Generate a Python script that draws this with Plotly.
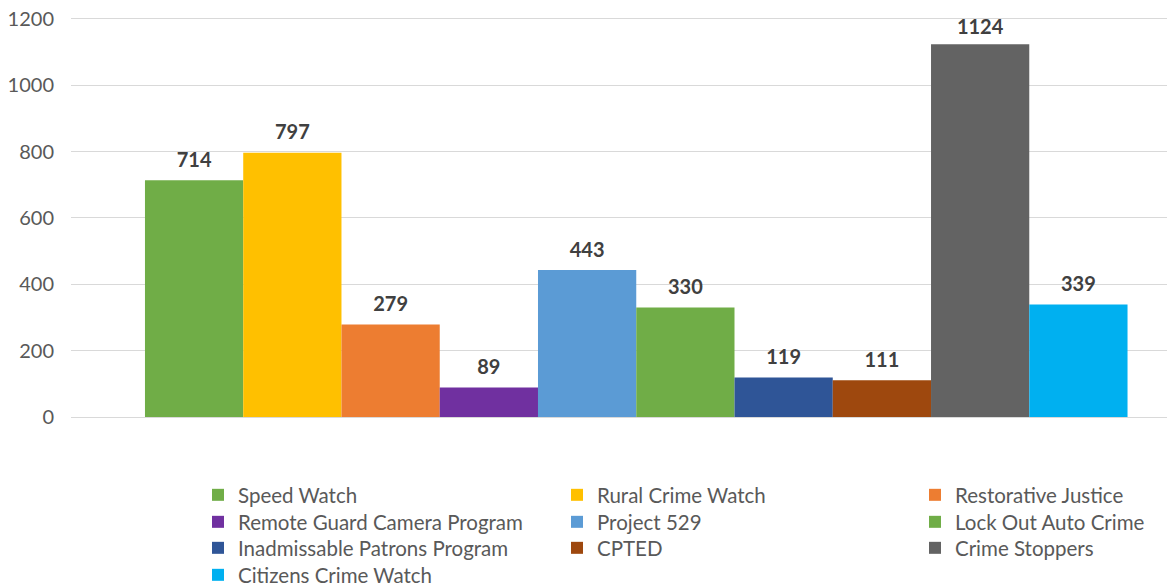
import plotly.graph_objects as go

programs = ["Speed Watch", "Rural Crime Watch", "Restorative Justice",
            "Remote Guard Camera Program", "Project 529", "Lock Out Auto Crime",
            "Inadmissable Patrons Program", "CPTED", "Crime Stoppers",
            "Citizens Crime Watch"]
counts = [714, 797, 279, 89, 443, 330, 119, 111, 1124, 339]
colors = ["#70AD47", "#FFC000", "#ED7D31", "#7030A0", "#5B9BD5", "#70AD47",
          "#2F5597", "#9E480E", "#636363", "#00B0F0"]
y_ticks = [0, 200, 400, 600, 800, 1000, 1200]

FONT = "Lato"

# page body has an 8px default margin; the figure is sized/positioned to compensate
OFF = 8
W, H = 1175 - OFF, 587 - OFF
Y_MAX = 1206                     # a little headroom so the 1200 gridline is kept
px_per_unit = (417 - 19) / 1200
plot_bottom_px = 417 - OFF
plot_top_px = 417 - OFF - Y_MAX * px_per_unit
ml, mr, mt, mb = 71 - OFF, 0, plot_top_px, 0
pw = W - ml - mr
paper_h = H - mt - mb

col_text_px = [238 - OFF, 597 - OFF, 955 - OFF]
row_center_px = [495 - OFF, 522 - OFF, 548 - OFF, 575 - OFF]

GAP = 0.11

fig = go.Figure()
legends = {}
for i, (name, val, col) in enumerate(zip(programs, counts, colors)):
    key = "legend" if i == 0 else f"legend{i + 1}"
    fig.add_trace(go.Bar(
        x=[""], y=[val], name=name, marker_color=col,
        marker_line_width=0, legend=key, offsetgroup=str(i),
    ))
    c, r = i % 3, i // 3
    legends[key] = dict(
        orientation="v", xanchor="left", yanchor="middle",
        x=(col_text_px[c] - 40 - ml) / pw,
        y=(H - mb - row_center_px[r]) / paper_h,
        font=dict(family=FONT, size=20.5, color="#595959"),
        bgcolor="rgba(0,0,0,0)", borderwidth=0,
    )

# value labels as grouped scatter text so the gap above each bar can be set
for i, (name, val) in enumerate(zip(programs, counts)):
    fig.add_trace(go.Scatter(
        x=[""], y=[val], mode="markers+text", text=[val],
        textposition="top center", offsetgroup=str(i),
        marker=dict(size=0 if name == "Crime Stoppers" else 12, opacity=0),
        cliponaxis=False,
        textfont=dict(family=FONT, size=20, color="#404040", weight="bold"),
        showlegend=False, hoverinfo="skip",
    ))

fig.update_layout(
    width=W, height=H,
    margin=dict(l=ml, r=mr, t=mt, b=mb, autoexpand=False),
    paper_bgcolor="white", plot_bgcolor="white",
    barmode="group", bargap=GAP, bargroupgap=0,
    scattermode="group", scattergap=GAP,
    showlegend=True,
    xaxis=dict(type="category", range=[-0.512, 0.488], showticklabels=False,
               showgrid=False, zeroline=False, showline=False, ticks=""),
    yaxis=dict(range=[0, Y_MAX], tickvals=y_ticks, showgrid=True,
               domain=[(H - mb - plot_bottom_px) / paper_h, 1],
               gridcolor="#D9D9D9", gridwidth=1, zeroline=True,
               zerolinecolor="#D9D9D9", zerolinewidth=1, showline=False,
               tickfont=dict(family=FONT, size=20, color="#595959"),
               ticklabeloverflow="allow",
               ticks="", ticklabelstandoff=16),
    font=dict(family=FONT),
    **legends,
)

fig.write_html("out.html")
